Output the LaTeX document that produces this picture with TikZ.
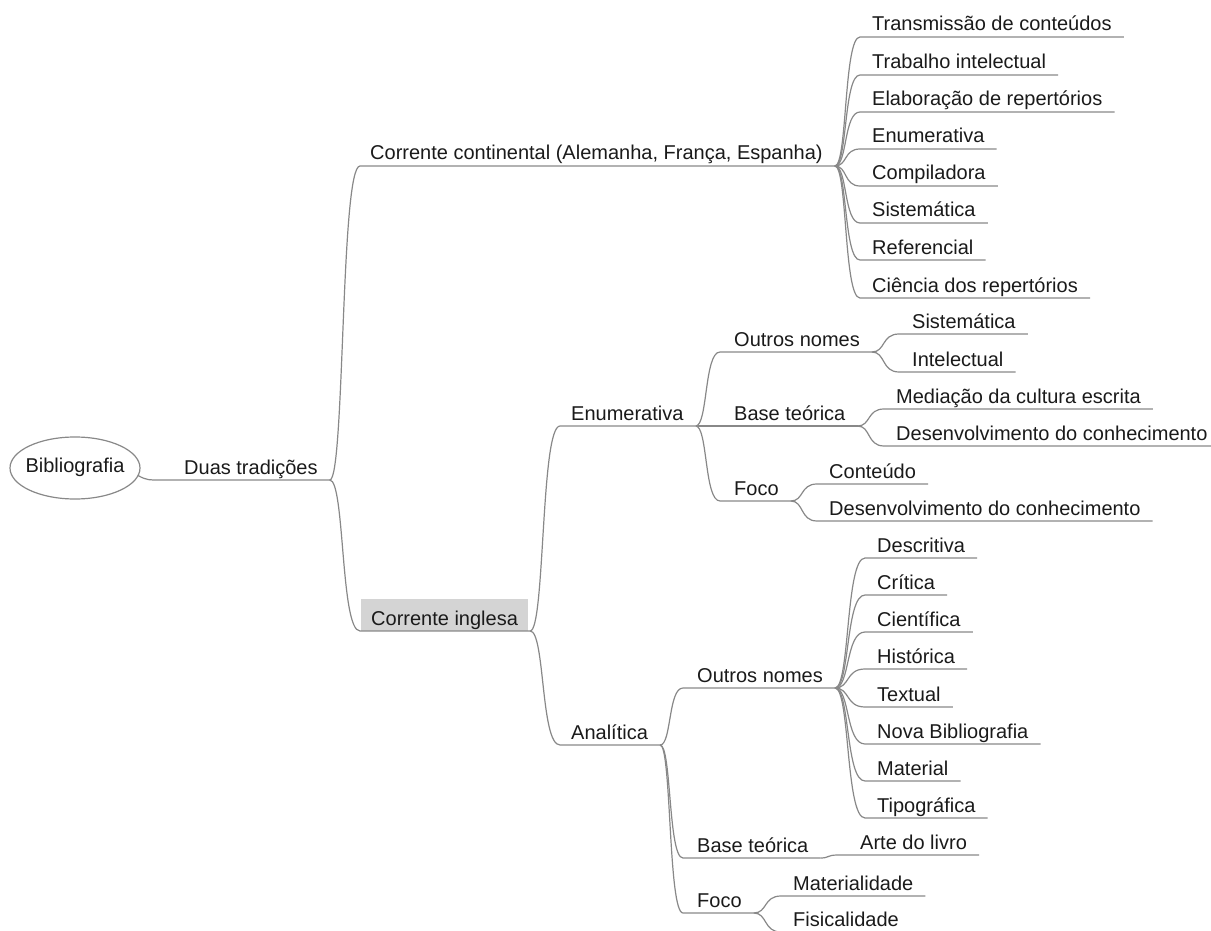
\documentclass[tikz,border=0pt]{standalone}
\usepackage{fontspec}
\setmainfont{Liberation Sans}
\usetikzlibrary{calc,shapes.geometric,backgrounds}
\definecolor{linegray}{HTML}{888888}
\definecolor{boxgray}{HTML}{D4D4D4}
\definecolor{txt}{HTML}{1A1A1A}
\tikzset{
  topic/.style={anchor=base west, inner sep=0pt, font=\fontsize{20}{24}\selectfont, text=txt},
  conn/.style={draw=linegray, line width=1.2pt},
  rootnode/.style={inner sep=0pt, font=\fontsize{20}{24}\selectfont, text=txt}
}
\newcommand\mmtopic[5]{%
  \node[topic] (#1) at (#3,#4-6) {#5};
  \coordinate (#1-l) at (#2,#4);
  \coordinate (#1-r) at ($(#1.base east)+(12,6)$);
}
\newcommand\mmconn[2]{%
  \draw[conn] let \p1=(#1-r), \p2=(#2-l) in
    (\p1) .. controls ({\x1+0.5*(\x2-\x1)},\y1) and ({\x1+0.35*(\x2-\x1)},\y2) .. (\p2) -- (#2-r);
}
\begin{document}
\begin{tikzpicture}[x=1pt,y=-1pt]
\useasboundingbox (0,0) rectangle (1211,931);
% root
\node[rootnode] (root) at (75,467) {Bibliografia};
\draw[conn] (75,468) ellipse [x radius=65, y radius=31];
\coordinate (root-r) at (138,475.5);
% level 1
\mmtopic{duas}{160}{184}{480}{Duas tradições}
\draw[conn] (root-r) .. controls +(9,5) and +(-10,0) .. (duas-l) -- (duas-r);
% level 2
\mmtopic{cont}{360}{370}{166}{Corrente continental (Alemanha, França, Espanha)}
\mmtopic{ingl}{360}{371}{631}{Corrente inglesa}
\begin{scope}[on background layer]
  \fill[boxgray] ($(ingl-l)+(1,-32)$) rectangle ($(ingl-r)+(-2,0)$);
\end{scope}
\mmconn{duas}{cont}
\mmconn{duas}{ingl}
% continental children
\mmtopic{c1}{860}{872}{37}{Transmissão de conteúdos}
\mmtopic{c2}{860}{872}{75}{Trabalho intelectual}
\mmtopic{c3}{860}{872}{112}{Elaboração de repertórios}
\mmtopic{c4}{860}{872}{149}{Enumerativa}
\mmtopic{c5}{860}{872}{186}{Compiladora}
\mmtopic{c6}{860}{872}{223}{Sistemática}
\mmtopic{c7}{860}{872}{260}{Referencial}
\mmtopic{c8}{860}{872}{298}{Ciência dos repertórios}
\foreach \c in {c1,c2,c3,c4,c5,c6,c7,c8} {\mmconn{cont}{\c}}
% inglesa children
\mmtopic{enu}{560}{571}{426}{Enumerativa}
\mmtopic{ana}{560}{571}{745}{Analítica}
\mmconn{ingl}{enu}
\mmconn{ingl}{ana}
% enumerativa
\mmtopic{eon}{720}{734}{352}{Outros nomes}
\mmtopic{ebt}{720}{734}{426}{Base teórica}
\mmtopic{efo}{720}{734}{501}{Foco}
\mmconn{enu}{eon}
\mmconn{enu}{ebt}
\mmconn{enu}{efo}
\mmtopic{eonA}{899}{912}{334}{Sistemática}
\mmtopic{eonB}{899}{912}{372}{Intelectual}
\mmconn{eon}{eonA}
\mmconn{eon}{eonB}
\mmtopic{ebtA}{884}{896}{409}{Mediação da cultura escrita}
\mmtopic{ebtB}{884}{896}{446}{Desenvolvimento do conhecimento}
\mmconn{ebt}{ebtA}
\mmconn{ebt}{ebtB}
\mmtopic{efoA}{817}{829}{484}{Conteúdo}
\mmtopic{efoB}{817}{829}{521}{Desenvolvimento do conhecimento}
\mmconn{efo}{efoA}
\mmconn{efo}{efoB}
% analitica
\mmtopic{aon}{683}{697}{688}{Outros nomes}
\mmtopic{abt}{683}{697}{858}{Base teórica}
\mmtopic{afo}{683}{697}{913}{Foco}
\mmconn{ana}{aon}
\mmconn{ana}{abt}
\mmconn{ana}{afo}
\mmtopic{a1}{865}{877}{558}{Descritiva}
\mmtopic{a2}{865}{877}{595}{Crítica}
\mmtopic{a3}{865}{877}{632}{Científica}
\mmtopic{a4}{865}{877}{669}{Histórica}
\mmtopic{a5}{865}{877}{707}{Textual}
\mmtopic{a6}{865}{877}{744}{Nova Bibliografia}
\mmtopic{a7}{865}{877}{781}{Material}
\mmtopic{a8}{865}{877}{818}{Tipográfica}
\foreach \c in {a1,a2,a3,a4,a5,a6,a7,a8} {\mmconn{aon}{\c}}
\mmtopic{abtA}{838}{860}{855}{Arte do livro}
\mmconn{abt}{abtA}
\mmtopic{afoA}{781}{793}{896}{Materialidade}
\mmtopic{afoB}{781}{793}{932}{Fisicalidade}
\mmconn{afo}{afoA}
\mmconn{afo}{afoB}
\end{tikzpicture}
\end{document}
